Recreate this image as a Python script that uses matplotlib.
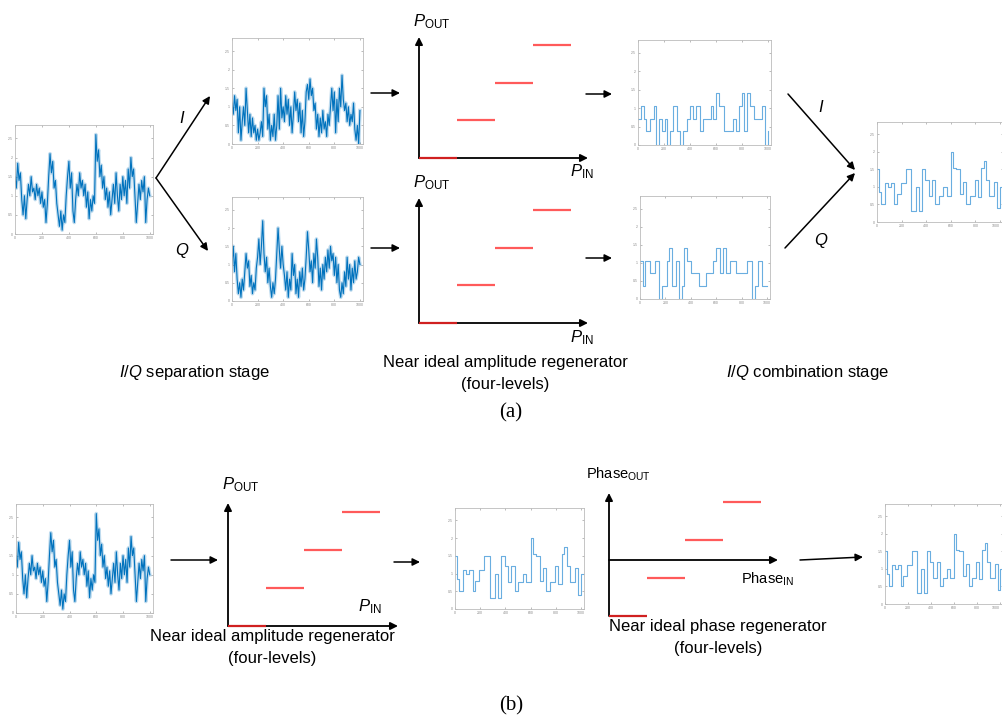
import matplotlib
matplotlib.use("Agg")
import matplotlib.pyplot as plt

plt.rcParams['font.family'] = ['Liberation Sans', 'DejaVu Sans']
plt.rcParams['mathtext.fontset'] = 'custom'
plt.rcParams['mathtext.rm'] = 'Liberation Sans'
plt.rcParams['mathtext.it'] = 'Liberation Sans:italic'

W, H = 1003, 721

# Eingangssignal (Stichproben alle 10 Werte)
sig_t = list(range(0, 1010, 10))
sig_orig = [1.5, 1.2, 1.85, 1.4, 1.6, 0.9, 0.5, 1.0, 0.4, 0.9,
            1.3, 1.0, 1.5, 1.1, 1.2, 0.9, 1.3, 1.0, 1.2, 0.8,
            1.1, 0.7, 0.9, 0.3, 0.8, 1.5, 2.1, 1.6, 1.9, 1.2,
            1.4, 0.8, 0.5, 0.2, 0.6, 0.1, 0.5, 0.3, 1.0, 1.5,
            1.9, 1.2, 1.6, 0.6, 0.3, 0.9, 1.3, 1.0, 1.6, 1.2,
            1.4, 1.0, 1.3, 0.7, 1.1, 0.4, 0.9, 0.6, 1.0, 0.8,
            2.6, 1.9, 2.2, 1.5, 1.8, 1.2, 1.5, 0.9, 1.2, 0.7,
            1.1, 0.5, 0.9, 1.3, 0.8, 1.6, 1.0, 0.6, 1.3, 0.9,
            1.5, 1.0, 1.4, 0.8, 1.7, 1.2, 2.0, 1.5, 1.7, 1.0,
            0.3, 0.8, 1.3, 0.9, 1.4, 1.1, 1.5, 0.3, 0.9, 1.2, 1.0]
sig_i = [1.1, 0.8, 1.3, 0.9, 1.2, 0.3, 1.0, 0.1, 0.6, 1.0,
         0.5, 1.5, 0.9, 0.3, 0.8, 0.2, 0.7, 0.3, 0.5, 0.1,
         0.4, 0.1, 0.3, 0.6, 0.2, 1.5, 1.0, 1.3, 0.4, 0.8,
         0.1, 0.5, 0.2, 0.8, 0.1, 0.5, 1.3, 0.4, 1.5, 0.7,
         1.0, 0.6, 1.3, 0.8, 1.2, 0.5, 1.0, 0.3, 0.8, 1.4,
         0.9, 1.2, 0.6, 1.1, 0.3, 0.9, 0.2, 0.6, 1.4, 1.6,
         1.2, 1.75, 1.3, 1.5, 0.9, 1.1, 0.4, 0.8, 0.2, 0.7,
         0.3, 0.9, 0.4, 0.6, 0.2, 0.8, 0.5, 1.0, 1.5, 0.9,
         1.4, 0.3, 1.2, 0.6, 1.5, 1.0, 1.85, 1.2, 0.9, 1.1,
         0.6, 1.0, 0.5, 0.8, 0.6, 1.1, 0.4, 0.1, 0.5, 0.0, 0.9]
sig_q = [1.0, 1.5, 0.8, 1.3, 0.6, 0.2, 0.5, 0.1, 0.6, 0.3,
         0.8, 1.3, 0.9, 1.1, 0.4, 0.7, 0.2, 0.5, 0.3, 0.9,
         1.2, 1.7, 1.0, 1.5, 2.2, 1.3, 0.8, 1.2, 0.5, 0.9,
         0.4, 0.1, 0.5, 0.2, 0.6, 1.3, 2.0, 1.4, 0.9, 1.5,
         1.0, 0.7, 0.3, 0.8, 0.1, 0.6, 0.3, 1.3, 0.7, 1.0,
         0.2, 0.6, 0.1, 0.8, 0.4, 0.9, 0.3, 0.6, 1.2, 1.9,
         1.4, 0.8, 1.1, 0.5, 1.3, 0.9, 1.7, 1.2, 0.4, 0.9,
         0.3, 1.0, 0.6, 1.2, 0.8, 1.4, 0.9, 1.5, 1.1, 1.3,
         0.7, 1.2, 0.5, 1.0, 0.3, 0.1, 0.5, 0.2, 0.8, 0.4,
         1.2, 0.6, 1.0, 0.3, 0.9, 0.5, 1.1, 0.6, 0.8, 1.2, 1.0]

# Quantisierte Signale (Sprungstellen + Pegel)
iq_t = [0, 20, 45, 60, 95, 120, 140, 160, 185, 210, 222, 245, 272, 298, 322, 348,
        374, 400, 424, 450, 475, 500, 562, 576, 600, 622, 662, 728, 752, 778, 802,
        816, 840, 866, 890, 955, 980, 1000]
iq_v = [0.7, 1.05, 0.7, 0.38, 0.7, 1.05, 0, 0.7, 0.38, 0.7, 0, 0.38, 1.05, 0.38, 0, 0.38,
        0.7, 1.05, 0.7, 1.05, 0.38, 0.7, 1.05, 0.7, 1.4, 1.05, 0.38, 0.7, 0.38, 1.05, 1.4,
        0.38, 1.4, 1.05, 0.7, 1.05, 0, 0.38]
qq_t = [0, 20, 40, 80, 120, 147, 173, 213, 227, 253, 280, 307, 333, 347, 373, 400,
        467, 520, 573, 600, 627, 653, 680, 707, 760, 840, 880, 907, 933, 960, 1000]
qq_v = [1.05, 0.37, 1.05, 0.72, 1.05, 0, 0.37, 1.05, 1.4, 0.37, 1.05, 0, 0.37, 1.4, 1.05, 0.72,
        0.37, 0.72, 1.05, 1.4, 0.72, 1.4, 0.72, 1.05, 0.72, 1.05, 0, 0.37, 1.05, 0.37, 0.37]
comb_t = [0, 16, 35, 61, 88, 114, 141, 160, 194, 234, 274, 314, 340, 367, 394, 420, 447,
          473, 500, 540, 567, 601, 620, 646, 673, 700, 726, 753, 793, 819, 846, 867, 886,
          912, 952, 979, 1000, 1024]
comb_v = [1.5, 0.85, 0.5, 1.1, 1.0, 1.1, 0.5, 0.8, 1.1, 1.5, 0.3, 1.0, 0.3, 1.5, 1.2, 0.75, 1.2,
          0.5, 0.75, 1.0, 0.75, 2.0, 1.55, 1.5, 0.8, 1.15, 0.5, 0.75, 1.2, 0.7, 1.55, 1.75, 1.2,
          0.75, 1.15, 0.4, 1.0, 1.0]

# Pegel der Regeneratoren (Treppenstufen)
stair_levels = [0, 1, 2, 3]

fig = plt.figure(figsize=(W / 100, H / 100), dpi=100)
ax = fig.add_axes([0, 0, 1, 1])
ax.set_xlim(0, W)
ax.set_ylim(H, 0)
ax.axis('off')


def small_plot(x0, y0, x1, y1, cut=False):
    a = fig.add_axes([x0 / W, 1 - y1 / H, (x1 - x0) / W, (y1 - y0) / H])
    a.set_xlim(0, 1024)
    a.set_ylim(0, 2.85)
    a.set_xticks([0, 200, 400, 600, 800, 1000])
    a.set_yticks([0, 0.5, 1, 1.5, 2, 2.5])
    a.set_xticklabels(['0', '200', '400', '600', '800', '1000'])
    a.set_yticklabels(['0', '0.5', '1', '1.5', '2', '2.5'])
    a.tick_params(direction='in', length=1.5, width=0.4, labelsize=2.5,
                  colors='#888888', top=True, right=True, pad=1.5)
    if cut:
        a.get_xticklabels()[-1].set_ha('right')
    for s in a.spines.values():
        s.set_color('#bbbbbb')
        s.set_linewidth(0.6)
    return a


def noisy(a, vals):
    a.plot(sig_t, vals, color='#0072BD', lw=2.6, alpha=0.25)
    a.plot(sig_t, vals, color='#0072BD', lw=0.8)


def steps(a, t, v):
    a.step(t, v, where='post', color='#6aaee0', lw=0.8)


a1 = small_plot(15, 125, 153, 234); noisy(a1, sig_orig)
a2 = small_plot(232, 38, 363, 144); noisy(a2, sig_i)
a3 = small_plot(232, 197, 363, 301); noisy(a3, sig_q)
a4 = small_plot(638, 40, 771, 145); steps(a4, iq_t, iq_v)
a5 = small_plot(640, 196, 770, 299); steps(a5, qq_t, qq_v)
a6 = small_plot(877, 122, 1003, 222, cut=True); steps(a6, comb_t, comb_v)
a7 = small_plot(16, 504, 153, 613); noisy(a7, sig_orig)
a8 = small_plot(455, 508, 584, 609); steps(a8, comb_t, comb_v)
a9 = small_plot(885, 504, 1003, 604, cut=True); steps(a9, comb_t, comb_v)


def arrow(x0, y0, x1, y1, lw=1.1):
    ax.annotate('', xy=(x1, y1), xytext=(x0, y0),
                arrowprops=dict(arrowstyle='-|>', color='black', lw=lw,
                                mutation_scale=11, shrinkA=0, shrinkB=0))


def regenerator(ox, ybase, top, xaxis_y, right, step_y, seg_w=38):
    # Achsen
    arrow(ox, ybase, ox, top, lw=1.3)
    arrow(ox, xaxis_y, right, xaxis_y, lw=1.3)
    # rote Stufen
    for k in stair_levels:
        y = ybase - k * step_y
        col = '#d02020' if k == 0 else '#ff5a5a'
        ax.plot([ox + k * seg_w, ox + (k + 1) * seg_w], [y, y], color=col, lw=1.6,
                solid_capstyle='butt', zorder=3)


# (a) Regeneratoren
regenerator(419, 158, 37, 158, 588, 37.7)
regenerator(419, 323, 198, 323, 588, 37.7)
# (b) Amplitude und Phase
regenerator(228, 626, 503, 626, 398, 38)
regenerator(609, 616, 493, 560, 778, 38)

# Pfeile
arrow(156, 178, 210, 96)
arrow(156, 178, 208, 251)
arrow(371, 93, 400, 93)
arrow(371, 248, 400, 248)
arrow(586, 94, 612, 94)
arrow(586, 258, 612, 258)
arrow(788, 94, 855, 170)
arrow(785, 248, 855, 173)
arrow(171, 560, 218, 560)
arrow(394, 562, 420, 562)
arrow(800, 560, 863, 557)

# Beschriftungen
fs = 12
ax.text(182, 118, r'$I$', fontsize=fs, ha='center', va='center')
ax.text(182, 250, r'$Q$', fontsize=fs, ha='center', va='center')
ax.text(821, 107, r'$I$', fontsize=fs, ha='center', va='center')
ax.text(821, 240, r'$Q$', fontsize=fs, ha='center', va='center')

ax.text(413, 22, r'$P_{\mathrm{OUT}}$', fontsize=fs, ha='left', va='center')
ax.text(570, 172, r'$P_{\mathrm{IN}}$', fontsize=fs, ha='left', va='center')
ax.text(413, 183, r'$P_{\mathrm{OUT}}$', fontsize=fs, ha='left', va='center')
ax.text(570, 338, r'$P_{\mathrm{IN}}$', fontsize=fs, ha='left', va='center')
ax.text(222, 485, r'$P_{\mathrm{OUT}}$', fontsize=fs, ha='left', va='center')
ax.text(358, 607, r'$P_{\mathrm{IN}}$', fontsize=fs, ha='left', va='center')
ax.text(586, 474, r'Phase$_{\mathrm{OUT}}$', fontsize=10.5, ha='left', va='center')
ax.text(741, 579, r'Phase$_{\mathrm{IN}}$', fontsize=10.5, ha='left', va='center')

ax.text(195, 373, r'$I$/$Q$ separation stage', fontsize=fs, ha='center', va='center')
ax.text(505, 362, 'Near ideal amplitude regenerator', fontsize=fs, ha='center', va='center')
ax.text(505, 385, '(four-levels)', fontsize=fs, ha='center', va='center')
ax.text(808, 373, r'$I$/$Q$ combination stage', fontsize=fs, ha='center', va='center')
ax.text(511, 413, '(a)', fontsize=15, ha='center', va='center', family='Liberation Serif')

ax.text(272, 636, 'Near ideal amplitude regenerator', fontsize=fs, ha='center', va='center')
ax.text(272, 658, '(four-levels)', fontsize=fs, ha='center', va='center')
ax.text(718, 626, 'Near ideal phase regenerator', fontsize=fs, ha='center', va='center')
ax.text(718, 648, '(four-levels)', fontsize=fs, ha='center', va='center')
ax.text(511, 706, '(b)', fontsize=15, ha='center', va='center', family='Liberation Serif')

plt.savefig('out.png', dpi=100)
